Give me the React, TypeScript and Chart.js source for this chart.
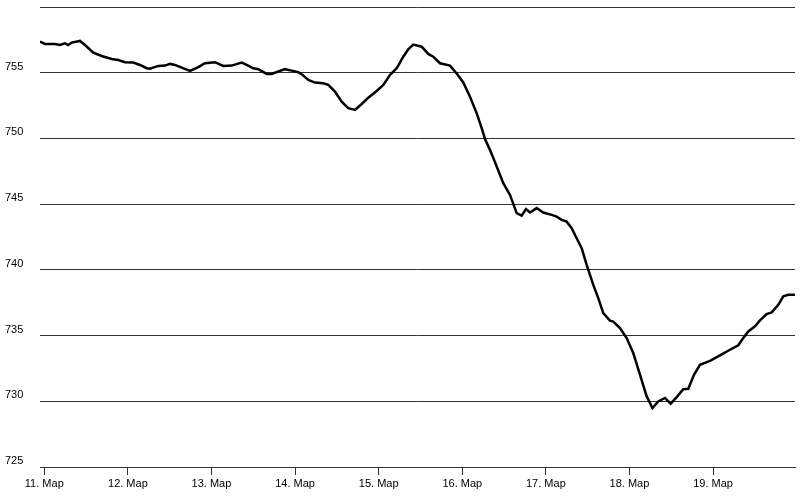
import React, { useEffect, useRef } from "react";
import { Chart, registerables } from "chart.js";

Chart.register(...registerables);

// hours since 11 March 00:00
const hours: number[] = [
  -1.23, 0.2, 3.07, 4.51, 5.94, 6.8, 7.87, 10.25, 11.68, 14.07, 16.48, 19.35, 21.24, 23.17, 25.55,
  27.47, 29.4, 30.34, 32.73, 34.65, 36.09, 37.52, 39.44, 41.83, 44.21, 46.13, 49.0, 51.39, 53.8,
  56.67, 58.11, 60.0, 61.44, 63.85, 65.28, 67.18, 69.1, 71.02, 72.92, 73.89, 75.79, 77.71, 80.09,
  81.53, 83.45, 85.38, 87.27, 89.2, 91.12, 93.01, 95.42, 97.32, 99.24, 101.17, 103.06, 104.5,
  105.93, 108.34, 110.24, 111.67, 113.6, 116.47, 118.39, 120.29, 122.21, 124.13, 125.57, 126.52,
  127.95, 129.88, 131.77, 133.7, 135.62, 137.05, 138.29, 139.44, 141.36, 143.25, 145.67, 147.1,
  148.54, 149.97, 151.41, 152.84, 154.28, 155.71, 157.61, 159.04, 160.48, 162.4, 163.35, 165.27,
  167.19, 169.09, 171.01, 172.94, 174.6, 176.27, 178.19, 179.83, 181.55, 183.44, 184.88, 186.52,
  188.24, 191.11, 193.98, 196.85, 199.24, 200.67, 202.11, 204.03, 205.47, 207.39, 208.83, 210.72,
  212.16, 213.59, 215.52,
];

const pressure: number[] = [
  757.37, 757.19, 757.19, 757.11, 757.24, 757.11, 757.29, 757.42, 757.11, 756.53, 756.27, 756.05,
  755.97, 755.8, 755.77, 755.59, 755.34, 755.31, 755.52, 755.54, 755.67, 755.59, 755.39, 755.14,
  755.42, 755.72, 755.8, 755.52, 755.54, 755.77, 755.59, 755.34, 755.27, 754.91, 754.91, 755.09,
  755.27, 755.16, 755.04, 754.89, 754.45, 754.25, 754.2, 754.07, 753.56, 752.8, 752.3, 752.17,
  752.62, 753.1, 753.61, 754.07, 754.83, 755.34, 756.22, 756.78, 757.14, 756.98, 756.43, 756.22,
  755.72, 755.54, 754.94, 754.26, 753.18, 751.92, 750.78, 749.96, 749.13, 747.86, 746.59, 745.7,
  744.31, 744.13, 744.62, 744.36, 744.7, 744.36, 744.18, 744.05, 743.8, 743.67, 743.17, 742.41,
  741.65, 740.38, 738.86, 737.85, 736.71, 736.14, 736.07, 735.57, 734.81, 733.67, 732.02, 730.37,
  729.49, 729.99, 730.25, 729.82, 730.32, 730.92, 730.95, 732.02, 732.78, 733.08, 733.5, 733.92,
  734.26, 734.81, 735.31, 735.71, 736.15, 736.64, 736.76, 737.34, 737.99, 738.1, 738.1,
];

const dayTicks: number[] = [0, 24, 48, 72, 96, 120, 144, 168, 192];
const dayLabels: string[] = [
  "11. Map", "12. Map", "13. Map", "14. Map", "15. Map", "16. Map", "17. Map", "18. Map", "19. Map",
];
const yTicks: number[] = [725, 730, 735, 740, 745, 750, 755, 760];

export default function App() {
  const canvasRef = useRef<HTMLCanvasElement | null>(null);

  useEffect(() => {
    document.body.style.margin = "0";
    const canvas = canvasRef.current;
    if (!canvas) return;
    const font = { family: "'Liberation Sans', Arial, sans-serif", size: 11 };
    const chart = new Chart(canvas, {
      type: "line",
      data: {
        datasets: [
          {
            data: hours.map((h, i) => ({ x: h, y: pressure[i] })),
            borderColor: "#000",
            borderWidth: 2.5,
            pointRadius: 0,
            tension: 0,
            fill: false,
          },
        ],
      },
      options: {
        animation: false,
        responsive: false,
        events: [],
        layout: { padding: { left: 5, right: 7, top: 7, bottom: 0 } },
        plugins: { legend: { display: false }, tooltip: { enabled: false } },
        scales: {
          x: {
            type: "linear",
            min: -1.23,
            max: 215.52,
            afterBuildTicks: (scale: any) => {
              scale.ticks = dayTicks.map((v) => ({ value: v }));
            },
            afterFit: (scale: any) => {
              scale.height = 30;
              scale.paddingLeft = 0;
              scale.paddingRight = 0;
            },
            ticks: {
              autoSkip: false,
              maxRotation: 0,
              padding: 2,
              color: "#000",
              font,
              callback: (value: any) => {
                const idx = dayTicks.indexOf(Number(value));
                return idx >= 0 ? dayLabels[idx] : "";
              },
            },
            grid: {
              drawOnChartArea: false,
              drawTicks: true,
              tickLength: 8,
              color: "#333",
              lineWidth: 1,
            },
            border: { display: true, color: "#333", width: 1 },
          },
          y: {
            type: "linear",
            min: 725,
            max: 760,
            afterBuildTicks: (scale: any) => {
              scale.ticks = yTicks.map((v) => ({ value: v }));
            },
            afterFit: (scale: any) => {
              scale.width = 35;
              scale.paddingTop = 0;
              scale.paddingBottom = 0;
            },
            ticks: {
              crossAlign: "far",
              labelOffset: -6,
              color: "#000",
              font,
              callback: (value: any) => (Number(value) === 760 ? "" : String(value)),
            },
            grid: {
              drawTicks: false,
              color: "#333",
              lineWidth: 1,
            },
            border: { display: false },
          },
        },
      },
    } as any);
    return () => chart.destroy();
  }, []);

  return (
    <div style={{ width: 802, height: 497 }}>
      <canvas ref={canvasRef} width={802} height={497} style={{ display: "block" }} />
    </div>
  );
}
